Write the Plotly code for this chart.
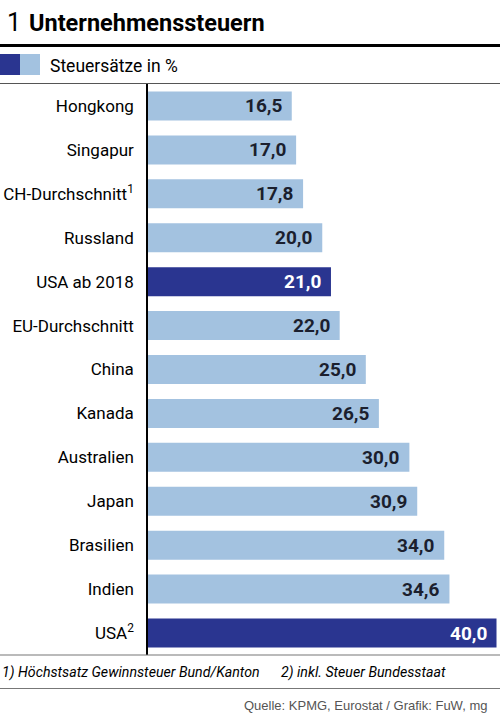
import plotly.graph_objects as go

categories = ["Hongkong", "Singapur", "CH-Durchschnitt<sup>1</sup>", "Russland", "USA ab 2018",
              "EU-Durchschnitt", "China", "Kanada", "Australien", "Japan", "Brasilien", "Indien",
              "USA<sup>2</sup>"]
values = [16.5, 17.0, 17.8, 20.0, 21.0, 22.0, 25.0, 26.5, 30.0, 30.9, 34.0, 34.6, 40.0]
highlight = [False, False, False, False, True, False, False, False, False, False, False, False, True]

LIGHT = "#a3c2e0"
DARK = "#2a3590"
FONT = "Roboto, Liberation Sans, sans-serif"

W, H = 500, 713
def py(px):
    return 1 - px / H

colors = [DARK if h else LIGHT for h in highlight]
labels = [f"{v:.1f}".replace(".", ",") for v in values]

fig = go.Figure(go.Bar(
    x=values, y=categories, orientation="h",
    marker=dict(color=colors, line=dict(width=0)),
    hoverinfo="skip",
))

annotations = []
for c, v, t, h in zip(categories, values, labels, highlight):
    annotations.append(dict(
        x=v, y=c, xref="x", yref="y", text=f"<b>{t}</b>", showarrow=False,
        xanchor="right", xshift=-8, yshift=0,
        font=dict(family=FONT, size=19, color="white" if h else "#1b1f2e"),
    ))

# Title
annotations.append(dict(x=5 / W, y=py(23), xref="paper", yref="paper",
                        text="1", showarrow=False,
                        xanchor="left", yanchor="middle",
                        font=dict(family=FONT, size=25, color="black")))
annotations.append(dict(x=27 / W, y=py(23), xref="paper", yref="paper",
                        text="<b>Unternehmenssteuern</b>", showarrow=False,
                        xanchor="left", yanchor="middle",
                        font=dict(family=FONT, size=23.5, color="black")))
# Legend text
annotations.append(dict(x=48 / W, y=py(66), xref="paper", yref="paper",
                        text="Steuersätze in %", showarrow=False,
                        xanchor="left", yanchor="middle",
                        font=dict(family=FONT, size=17.5, color="black")))
# Footnotes
annotations.append(dict(x=0, y=py(672), xref="paper", yref="paper",
                        text="<i>1) Höchstsatz Gewinnsteuer Bund/Kanton</i>", showarrow=False,
                        xanchor="left", yanchor="middle",
                        font=dict(family=FONT, size=14.2, color="black")))
annotations.append(dict(x=279 / W, y=py(672), xref="paper", yref="paper",
                        text="<i>2) inkl. Steuer Bundesstaat</i>", showarrow=False,
                        xanchor="left", yanchor="middle",
                        font=dict(family=FONT, size=14.2, color="black")))
# Source
annotations.append(dict(x=489 / W, y=py(705), xref="paper", yref="paper",
                        text="Quelle: KPMG, Eurostat / Grafik: FuW, mg", showarrow=False,
                        xanchor="right", yanchor="middle",
                        font=dict(family="Liberation Sans, Arial, sans-serif", size=13, color="#555555")))

shapes = [
    dict(type="line", xref="paper", yref="paper", x0=0, x1=1, y0=py(45.5), y1=py(45.5),
         line=dict(color="black", width=3)),
    dict(type="line", xref="paper", yref="paper", x0=0, x1=1, y0=py(83.5), y1=py(83.5),
         line=dict(color="#555555", width=1.2)),
    dict(type="line", xref="paper", yref="paper", x0=0, x1=1, y0=py(655), y1=py(655),
         line=dict(color="#777777", width=1.2)),
    dict(type="line", xref="paper", yref="paper", x0=0, x1=1, y0=py(688.5), y1=py(688.5),
         line=dict(color="#777777", width=1.2)),
    # legend swatches
    dict(type="rect", xref="paper", yref="paper", x0=0, x1=20 / W, y0=py(75), y1=py(54),
         fillcolor=DARK, line=dict(width=0)),
    dict(type="rect", xref="paper", yref="paper", x0=20 / W, x1=40 / W, y0=py(75), y1=py(54),
         fillcolor=LIGHT, line=dict(width=0)),
]

fig.update_layout(
    width=W, height=H,
    margin=dict(l=0, r=0, t=0, b=0, autoexpand=False),
    paper_bgcolor="white", plot_bgcolor="white",
    showlegend=False,
    bargap=0.34,
    annotations=annotations,
    shapes=shapes,
    xaxis=dict(domain=[148 / W, 1], range=[0, 40.4], showgrid=False, zeroline=False,
               showticklabels=False, showline=False, fixedrange=True),
    yaxis=dict(domain=[py(655), py(84)], autorange="reversed", showgrid=False,
               showline=True, linecolor="black", linewidth=1.5,
               ticks="", ticklabelstandoff=9,
               tickfont=dict(family=FONT, size=17, color="black"), fixedrange=True),
)

fig.write_html("out.html", config={"displayModeBar": False},
               post_script="document.body.style.margin='0';document.body.style.padding='0';document.body.style.overflow='hidden';")
